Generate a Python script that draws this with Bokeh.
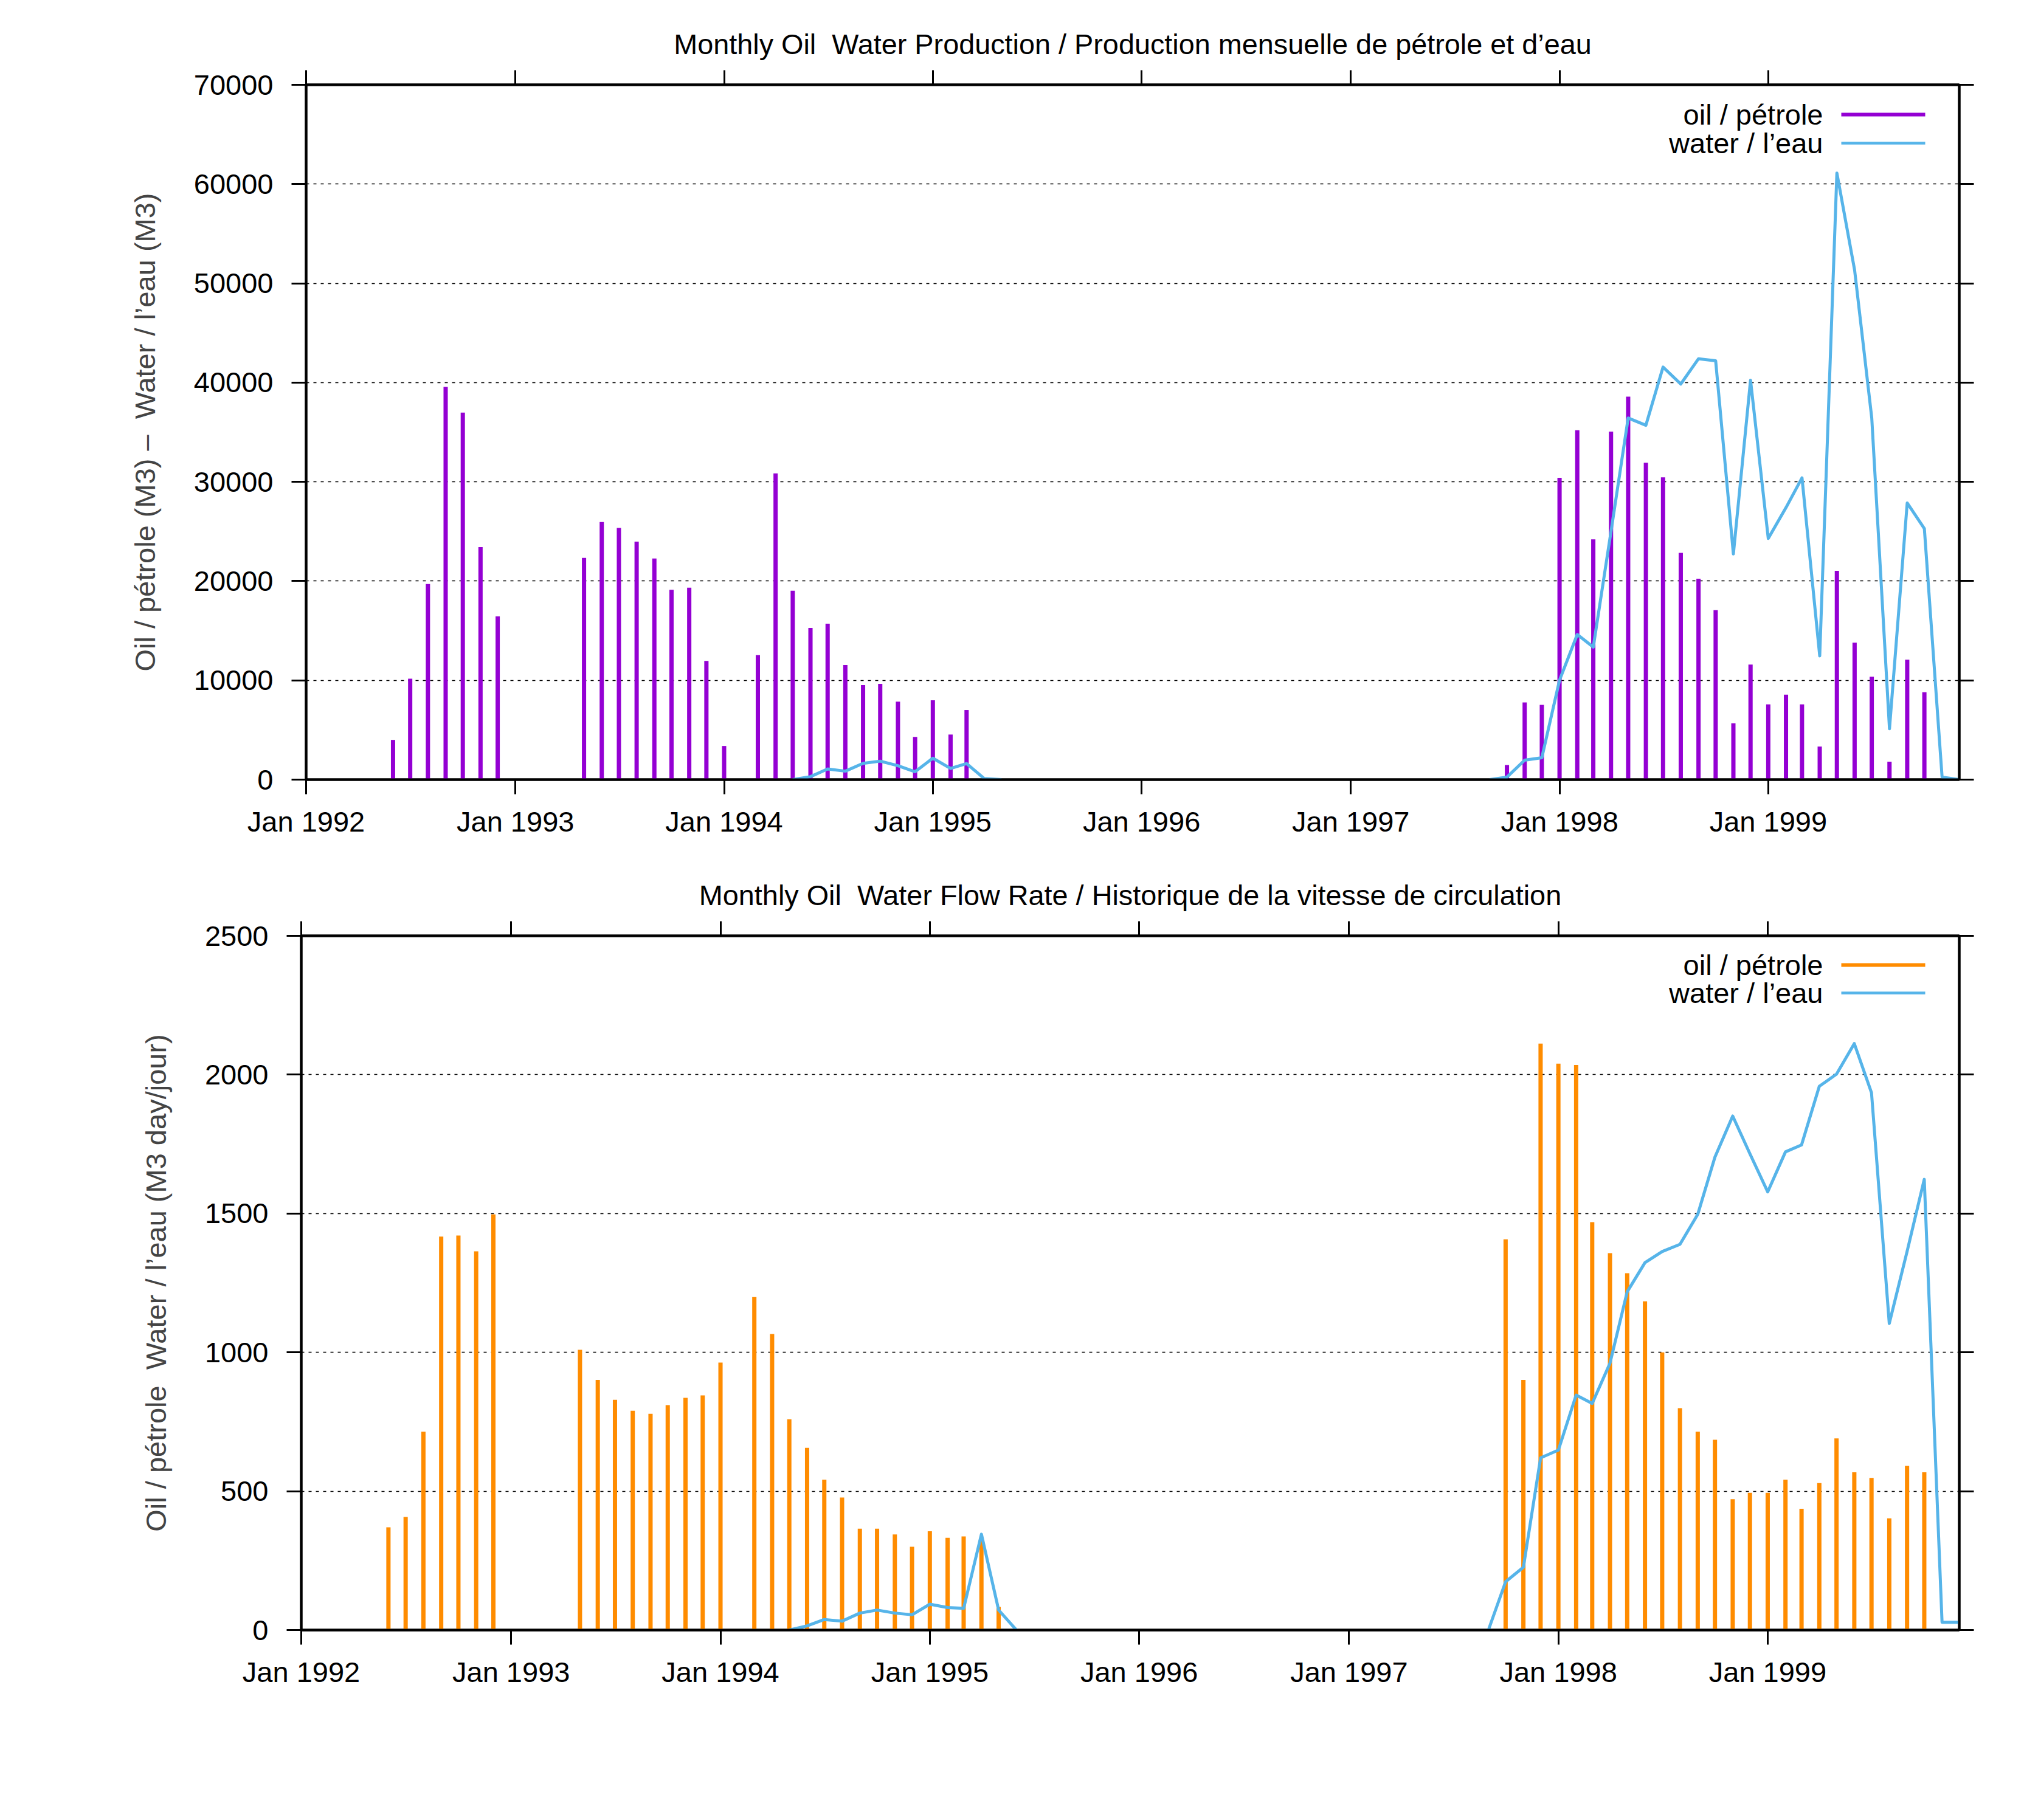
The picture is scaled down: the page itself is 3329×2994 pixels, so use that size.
import numpy as np
import pandas as pd
from bokeh.plotting import figure
from bokeh.layouts import column
from bokeh.models import (Range1d, FixedTicker, DatetimeAxis, LinearAxis,
                          DatetimeTickFormatter, CustomJSTickFormatter,
                          BasicTickFormatter, Label, Arrow)
from bokeh.embed import file_html
from bokeh.resources import INLINE

# ---------------- data ----------------
# Monthly production (M3): oil impulses, segments start month + values
prod_oil_starts = ["1992-06", "1993-05", "1994-03", "1997-10"]
prod_oil_1992 = [4000, 10160, 19710, 39560, 36980, 23430, 16450]
prod_oil_1993 = [22340, 25950, 25350, 23980, 22280, 19130, 19330, 11960, 3390]
prod_oil_1994 = [12540, 30850, 19030, 15280, 15710, 11550, 9530, 9640, 7860,
                 4300, 7990, 4540, 7010]
prod_oil_1997 = [1470, 7775, 7530, 30400, 35200, 24200, 35060, 38580, 31930,
                 30460, 22840, 20240, 17070, 5670, 11590, 7580, 8560, 7580,
                 3330, 21030, 13790, 10370, 1810, 12080, 8800]

# Monthly production (M3): water line
prod_water_starts = ["1994-05", "1997-09"]
prod_water_1994 = [0, 300, 1070, 850, 1640, 1860, 1400, 790, 2160, 1120, 1620,
                   100, 0]
prod_water_1997 = [0, 250, 1956, 2200, 10020, 14620, 13350, 25000, 36430,
                   35700, 41560, 39850, 42400, 42200, 22740, 40240, 24300,
                   27400, 30400, 12470, 61100, 51340, 36430, 5130, 27870,
                   25280, 250, 0]

# Monthly flow rate (M3/day): oil impulses
rate_oil_starts = ["1992-06", "1993-05", "1994-03", "1997-10"]
rate_oil_1992 = [370, 407, 714, 1417, 1421, 1364, 1497]
rate_oil_1993 = [1009, 901, 829, 790, 779, 810, 836, 845, 963]
rate_oil_1994 = [1199, 1066, 759, 656, 541, 477, 365, 365, 344, 300, 356, 332,
                 337, 325, 83]
rate_oil_1997 = [1407, 901, 2112, 2040, 2035, 1469, 1357, 1285, 1184, 1000,
                 799, 714, 685, 471, 494, 494, 541, 437, 529, 690, 568, 548,
                 402, 591, 568]

# Monthly flow rate (M3/day): water line
rate_water_starts = ["1994-05", "1997-09"]
rate_water_1994 = [0, 15, 38, 32, 61, 72, 61, 55, 93, 81, 78, 345, 72, 0]
rate_water_1997 = [0, 174, 226, 620, 648, 846, 816, 961, 1218, 1323, 1363,
                   1389, 1497, 1703, 1851, 1715, 1578, 1722, 1747, 1958, 2002,
                   2112, 1935, 1104, 1363, 1623, 28, 28]

tick_years = [1992, 1993, 1994, 1995, 1996, 1997, 1998, 1999]
x_start, x_end = "1992-01-01", "1999-12-01"
prod_y_ticks = [0, 10000, 20000, 30000, 40000, 50000, 60000, 70000]
rate_y_ticks = [0, 500, 1000, 1500, 2000, 2500]

NB = "\u00a0"
title_prod = "Monthly Oil " + NB + "Water Production / Production mensuelle de pétrole et d\u2019eau"
title_rate = "Monthly Oil " + NB + "Water Flow Rate / Historique de la vitesse de circulation"
ylabel_prod = "Oil / pétrole (M3) \u2013 " + NB + "Water / l\u2019eau (M3)"
ylabel_rate = "Oil / pétrole " + NB + "Water / l\u2019eau (M3 day/jour)"
legend_oil = "oil / pétrole"
legend_water = "water / l\u2019eau"

# ---------------- styling ----------------
FONT = "Liberation Sans"
FS = "47px"
TITLE_FS = "46.8px"
OIL_PROD_COLOR = "#9400d3"
OIL_RATE_COLOR = "#ff8c00"
WATER_COLOR = "#56b4e9"


def months(start, n):
    return pd.period_range(start=start, periods=n, freq="M").to_timestamp()


x_ticks = [pd.Timestamp(f"{y}-01-01").value // 10**6 for y in tick_years]


def make_fig(height, border_left, border_top, border_bottom, y_max, y_ticks,
             title, ylabel):
    p = figure(width=3310, height=height, x_axis_type="datetime",
               output_backend="svg", toolbar_location=None,
               x_range=Range1d(pd.Timestamp(x_start), pd.Timestamp(x_end)),
               y_range=Range1d(0, y_max),
               min_border_left=border_left, min_border_right=88,
               min_border_top=border_top, min_border_bottom=border_bottom)
    try:
        p.frame_align = False
    except Exception:
        pass
    p.background_fill_color = "white"
    p.border_fill_color = "white"
    p.outline_line_color = "black"
    p.outline_line_width = 4

    p.title.text = title
    p.title.text_font = FONT
    p.title.text_font_size = TITLE_FS
    p.title.text_font_style = "normal"
    p.title.text_color = "black"
    p.title.align = "center"
    p.title.standoff = 33

    xa = p.below[0]
    xa.ticker = FixedTicker(ticks=x_ticks)
    xa.formatter = DatetimeTickFormatter(years="%b %Y", months="%b %Y",
                                         days="%b %Y")
    ya = p.left[0]
    ya.ticker = FixedTicker(ticks=y_ticks)
    ya.formatter = BasicTickFormatter(use_scientific=False)
    ya.axis_label = ylabel
    ya.axis_label_text_font = FONT
    ya.axis_label_text_font_size = FS
    ya.axis_label_text_font_style = "normal"
    ya.axis_label_standoff = 51
    ya.major_label_standoff = 30
    xa.major_label_standoff = 18

    top = DatetimeAxis(ticker=FixedTicker(ticks=x_ticks),
                       formatter=CustomJSTickFormatter(code="return ''"))
    right = LinearAxis(ticker=FixedTicker(ticks=y_ticks),
                       formatter=CustomJSTickFormatter(code="return ''"))
    p.add_layout(top, "above")
    p.add_layout(right, "right")
    for ax in (xa, ya, top, right):
        ax.axis_line_color = "black"
        ax.axis_line_width = 4
        ax.major_tick_line_color = "black"
        ax.major_tick_line_width = 3
        ax.major_tick_in = 0
        ax.major_tick_out = 24
        ax.minor_tick_line_color = None
        ax.major_label_text_font = FONT
        ax.major_label_text_font_size = FS
        ax.major_label_text_color = "black"
    for ax in (top, right):
        ax.major_label_text_font_size = "1px"
        ax.major_label_standoff = 0

    p.xgrid.visible = False
    p.ygrid.ticker = FixedTicker(ticks=y_ticks)
    p.ygrid.grid_line_color = "black"
    p.ygrid.grid_line_dash = "5 7"
    p.ygrid.grid_line_width = 1.5
    return p


def add_legend(p, x_text, y_oil, y_water, oil_color, oil_w, water_w):
    for txt, y, col, w in ((legend_oil, y_oil, oil_color, oil_w),
                           (legend_water, y_water, WATER_COLOR, water_w)):
        p.add_layout(Label(x=x_text, y=y, x_units="screen", y_units="screen",
                           text=txt, text_align="right", text_baseline="middle",
                           text_font=FONT, text_font_size=FS, text_color="black"))
        p.add_layout(Arrow(end=None, x_start=x_text + 30, y_start=y,
                           x_end=x_text + 168, y_end=y,
                           start_units="screen", end_units="screen",
                           line_color=col, line_width=w))


def draw(p, oil_starts, oil_segments, water_starts, water_segments, oil_color):
    for st, vals in zip(oil_starts, oil_segments):
        d = months(st, len(vals))
        p.segment(x0=d, y0=np.zeros(len(vals)), x1=d, y1=vals,
                  line_color=oil_color, line_width=7)
    for st, vals in zip(water_starts, water_segments):
        d = months(st, len(vals))
        p.line(x=d, y=vals, line_color=WATER_COLOR, line_width=5,
               line_join="round")


p1 = make_fig(1410, 503, 139, 128, 70000, prod_y_ticks, title_prod, ylabel_prod)
draw(p1, prod_oil_starts, [prod_oil_1992, prod_oil_1993, prod_oil_1994, prod_oil_1997],
     prod_water_starts, [prod_water_1994, prod_water_1997], OIL_PROD_COLOR)
add_legend(p1, 2495, 1094, 1047, OIL_PROD_COLOR, 6, 4.5)

p2 = make_fig(1421, 495, 129, 150, 2500, rate_y_ticks, title_rate, ylabel_rate)
draw(p2, rate_oil_starts, [rate_oil_1992, rate_oil_1993, rate_oil_1994, rate_oil_1997],
     rate_water_starts, [rate_water_1994, rate_water_1997], OIL_RATE_COLOR)
add_legend(p2, 2503, 1094, 1048, OIL_RATE_COLOR, 6, 4.5)

layout = column(p1, p2, spacing=0)
open("out.html", "w").write(file_html(layout, INLINE, "Monthly Oil Water"))
